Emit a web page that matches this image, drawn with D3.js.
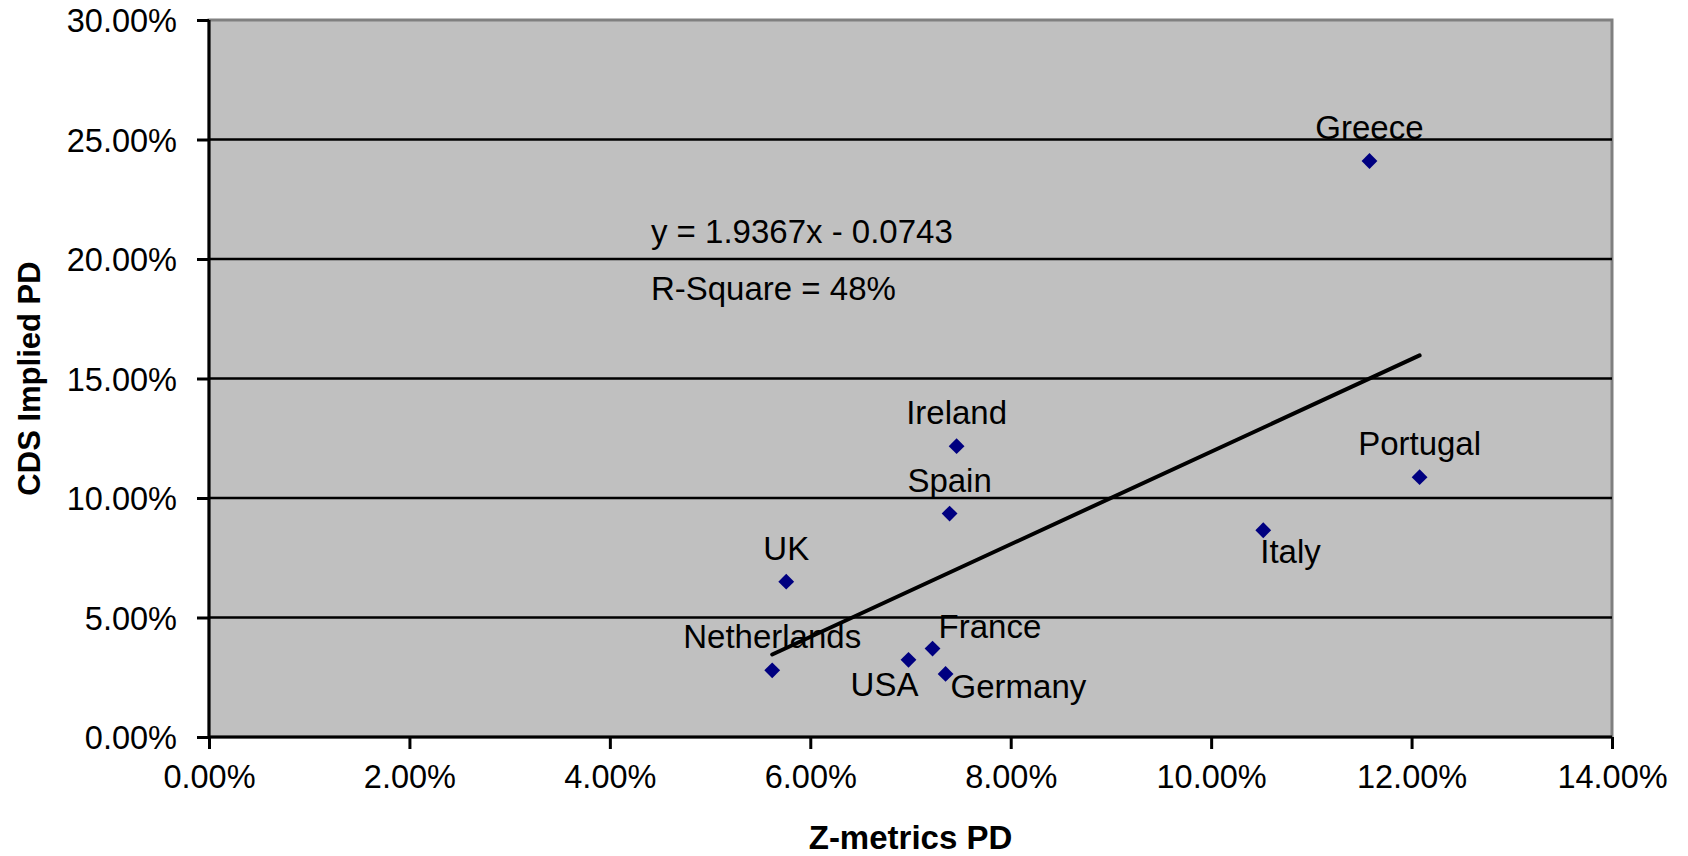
<!DOCTYPE html>
<html>
<head>
<meta charset="utf-8">
<script src="https://cdn.jsdelivr.net/npm/d3@7"></script>
<style>
  body { margin: 0; background: #fff; }
  text { font-family: "Liberation Sans", Arial, sans-serif; fill: #000; }
</style>
</head>
<body>
<script>
// data
var countries = ["Greece", "Portugal", "Italy", "Ireland", "Spain", "UK", "Netherlands", "USA", "France", "Germany"];
var zmetricsPD = [0.1158, 0.1208, 0.1052, 0.0746, 0.0739, 0.0576, 0.0562, 0.0698, 0.0722, 0.0735];
var cdsPD = [0.2410, 0.1087, 0.0865, 0.1217, 0.0935, 0.0650, 0.0279, 0.0323, 0.0370, 0.0264];
var labelSide = ["above", "above", "below", "above", "above", "above", "above", "belowLeft", "right", "belowRight"];

var xTicks = [0, 0.02, 0.04, 0.06, 0.08, 0.10, 0.12, 0.14];
var yTicks = [0, 0.05, 0.10, 0.15, 0.20, 0.25, 0.30];

var slope = 1.9367, intercept = -0.0743;
var eqText = "y = 1.9367x - 0.0743",
    rsqText = "R-Square = 48%";

var margin = {top: 20, right: 76, bottom: 119, left: 209},
    W = 1688, H = 856,
    width = W - margin.left - margin.right,
    height = H - margin.top - margin.bottom;

var svg = d3.select("body").append("svg")
    .attr("width", W)
    .attr("height", H);

var g = svg.append("g")
    .attr("transform", "translate(" + margin.left + "," + margin.top + ")");

var x = d3.scaleLinear().domain([0, 0.14]).range([0, width]);
var y = d3.scaleLinear().domain([0, 0.30]).range([height, 0]);
var fmt = d3.format(".2%");

// plot area
g.append("rect")
    .attr("width", width)
    .attr("height", height)
    .attr("fill", "#c0c0c0")
    .attr("stroke", "#808080")
    .attr("stroke-width", 3);

// horizontal gridlines
g.selectAll("line.grid")
    .data(yTicks.filter(function(d){ return d > 0 && d < 0.30; }))
  .enter().append("line")
    .attr("class", "grid")
    .attr("x1", 0).attr("x2", width)
    .attr("y1", function(d){ return y(d); })
    .attr("y2", function(d){ return y(d); })
    .attr("stroke", "#000")
    .attr("stroke-width", 2.4);

// axes
var xAxis = g.append("g")
    .attr("transform", "translate(0," + height + ")")
    .call(d3.axisBottom(x).tickValues(xTicks).tickFormat(fmt).tickSize(12).tickPadding(16));

var yAxis = g.append("g")
    .call(d3.axisLeft(y).tickValues(yTicks).tickFormat(fmt).tickSize(12).tickPadding(20));

[xAxis, yAxis].forEach(function(ax){
    ax.select(".domain").attr("stroke", "#000").attr("stroke-width", 3);
    ax.selectAll(".tick line").attr("stroke", "#000").attr("stroke-width", 3);
    ax.selectAll(".tick text")
        .style("font-family", "'Liberation Sans', Arial, sans-serif")
        .style("font-size", "32.5px")
        .attr("fill", "#000");
});
xAxis.select(".domain").attr("d", "M0,0H" + width);
yAxis.select(".domain").attr("d", "M0," + height + "V0");
yAxis.selectAll(".tick text").attr("dy", "0.36em");
xAxis.selectAll(".tick text").attr("dy", "0.71em");

// trend line over the range of x
var xExt = d3.extent(zmetricsPD);
g.append("line")
    .attr("x1", x(xExt[0])).attr("y1", y(slope * xExt[0] + intercept))
    .attr("x2", x(xExt[1])).attr("y2", y(slope * xExt[1] + intercept))
    .attr("stroke", "#000")
    .attr("stroke-width", 4)
    .attr("stroke-linecap", "round");

// points
var pts = countries.map(function(c, i){
    return {name: c, x: zmetricsPD[i], y: cdsPD[i], side: labelSide[i]};
});

g.selectAll("path.pt")
    .data(pts)
  .enter().append("path")
    .attr("class", "pt")
    .attr("d", d3.symbol().type(d3.symbolSquare).size(125))
    .attr("transform", function(d){ return "translate(" + x(d.x) + "," + y(d.y) + ") rotate(45)"; })
    .attr("fill", "#000080");

// data labels
var place = {
    above:      {dx: 0,   dy: -22, anchor: "middle"},
    below:      {dx: -3,  dy: 33,  anchor: "start"},
    belowLeft:  {dx: -24, dy: 36,  anchor: "middle"},
    right:      {dx: 6,   dy: -11, anchor: "start"},
    belowRight: {dx: 5,   dy: 24,  anchor: "start"}
};

g.selectAll("text.lbl")
    .data(pts)
  .enter().append("text")
    .attr("class", "lbl")
    .attr("x", function(d){ return x(d.x) + place[d.side].dx; })
    .attr("y", function(d){ return y(d.y) + place[d.side].dy; })
    .attr("text-anchor", function(d){ return place[d.side].anchor; })
    .style("font-size", "33px")
    .text(function(d){ return d.name; });

// regression annotation
g.append("text")
    .attr("x", x(0.0441)).attr("y", y(0.2067))
    .style("font-size", "33px")
    .text(eqText);
g.append("text")
    .attr("x", x(0.0441)).attr("y", y(0.2067) + 57)
    .style("font-size", "33px")
    .text(rsqText);

// axis titles
svg.append("text")
    .attr("x", margin.left + width / 2)
    .attr("y", 849)
    .attr("text-anchor", "middle")
    .style("font-size", "33px")
    .style("font-weight", "bold")
    .text("Z-metrics PD");

svg.append("text")
    .attr("transform", "translate(40," + (margin.top + height / 2) + ") rotate(-90)")
    .attr("text-anchor", "middle")
    .style("font-size", "31px")
    .style("font-weight", "bold")
    .text("CDS Implied PD");
</script>
</body>
</html>
